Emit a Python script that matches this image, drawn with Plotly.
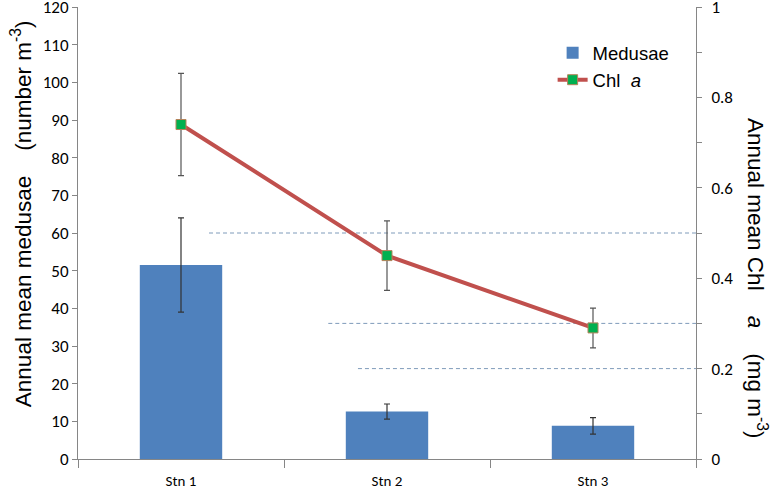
import plotly.graph_objects as go

stations = ["Stn 1", "Stn 2", "Stn 3"]
medusae = [51.5, 12.6, 8.8]
medusae_err = [12.5, 2.0, 2.2]
chl = [0.74, 0.45, 0.29]
chl_err = [0.113, 0.077, 0.044]
left_ticks = list(range(0, 121, 10))
right_ticks = [0, 0.2, 0.4, 0.6, 0.8, 1]
right_tick_labels = ["0", "0.2", "0.4", "0.6", "0.8", "1"]
# reference levels (Chl a) and the paper-x where each dashed line starts
ref_levels = [0.5, 0.3, 0.2]
ref_starts = [0.212, 0.405, 0.453]

tick_font = dict(family="Carlito, Lato, sans-serif", size=17, color="#000000")
title_font = dict(family="Liberation Sans, Arial, sans-serif", size=22.5, color="#000000")
axis_grey = "#868686"
NB = "\u00a0"

fig = go.Figure()
fig.add_trace(go.Bar(
    x=stations, y=medusae, name="Medusae",
    marker=dict(color="#4F81BD", line=dict(width=0)),
    width=0.4,
    error_y=dict(type="data", array=medusae_err, color="#333333", thickness=1.2, width=3),
))
fig.add_trace(go.Scatter(
    x=stations, y=chl, name="Chl" + NB * 2 + "<i>a</i>", yaxis="y2",
    mode="lines+markers",
    line=dict(color="#C0504D", width=4),
    marker=dict(symbol="square", size=10, color="#00B050", line=dict(color="#B5835A", width=1)),
    error_y=dict(type="data", array=chl_err, color="#555555", thickness=1.2, width=3),
))

shapes = []
for lvl, x0 in zip(ref_levels, ref_starts):
    shapes.append(dict(type="line", xref="paper", yref="y2", x0=x0, x1=1, y0=lvl, y1=lvl,
                       line=dict(color="#7F9BBA", width=1, dash="4px,3px"), layer="below"))

fig.update_layout(
    width=774, height=490,
    margin=dict(l=78, r=78, t=7, b=31, autoexpand=False),
    paper_bgcolor="white", plot_bgcolor="white",
    showlegend=True,
    legend=dict(x=0.768, y=0.94, xanchor="left", yanchor="top",
                font=dict(family="Liberation Sans, Arial, sans-serif", size=18.5, color="#000"),
                itemwidth=30, tracegroupgap=0, bgcolor="rgba(0,0,0,0)"),
    xaxis=dict(type="category", showline=True, linecolor=axis_grey, linewidth=1,
               ticks="outside", tickson="boundaries", ticklen=8, tickcolor=axis_grey,
               tickfont=dict(family="Carlito, Lato, sans-serif", size=15, color="#000"),
               ticklabelstandoff=8,
               showgrid=False, zeroline=False),
    yaxis=dict(range=[0, 120], tickvals=left_ticks, showline=True, linecolor=axis_grey,
               ticks="outside", ticklen=5, tickcolor=axis_grey, tickfont=tick_font,
               ticklabeloverflow="allow",
               showgrid=False, zeroline=False),
    yaxis2=dict(range=[0, 1], overlaying="y", side="right", tickvals=right_ticks,
                ticktext=right_tick_labels, showline=True, linecolor=axis_grey,
                ticks="outside", ticklen=5, tickcolor=axis_grey, tickfont=tick_font,
                minor=dict(dtick=0.1, ticks="outside", ticklen=5, tickcolor=axis_grey),
                ticklabeloverflow="allow",
                ticklabelstandoff=6, showgrid=False, zeroline=False),
    shapes=shapes,
    annotations=[
        dict(text="Annual mean medusae" + NB * 4 + "(number m<sup>-3</sup>)", xref="paper", yref="paper",
             x=-0.092, y=0.542, xanchor="center", yanchor="middle", textangle=-90,
             showarrow=False, font=title_font),
        dict(text="Annual mean Chl" + NB * 4 + "<i>a</i>" + NB * 4 + "(mg m<sup>-3</sup>)",
             xref="paper", yref="paper",
             x=1.099, y=0.40, xanchor="center", yanchor="middle", textangle=90,
             showarrow=False, font=title_font),
    ],
)

fig.write_html("out.html", config={"displayModeBar": False},
               post_script="document.body.style.margin='0';")
